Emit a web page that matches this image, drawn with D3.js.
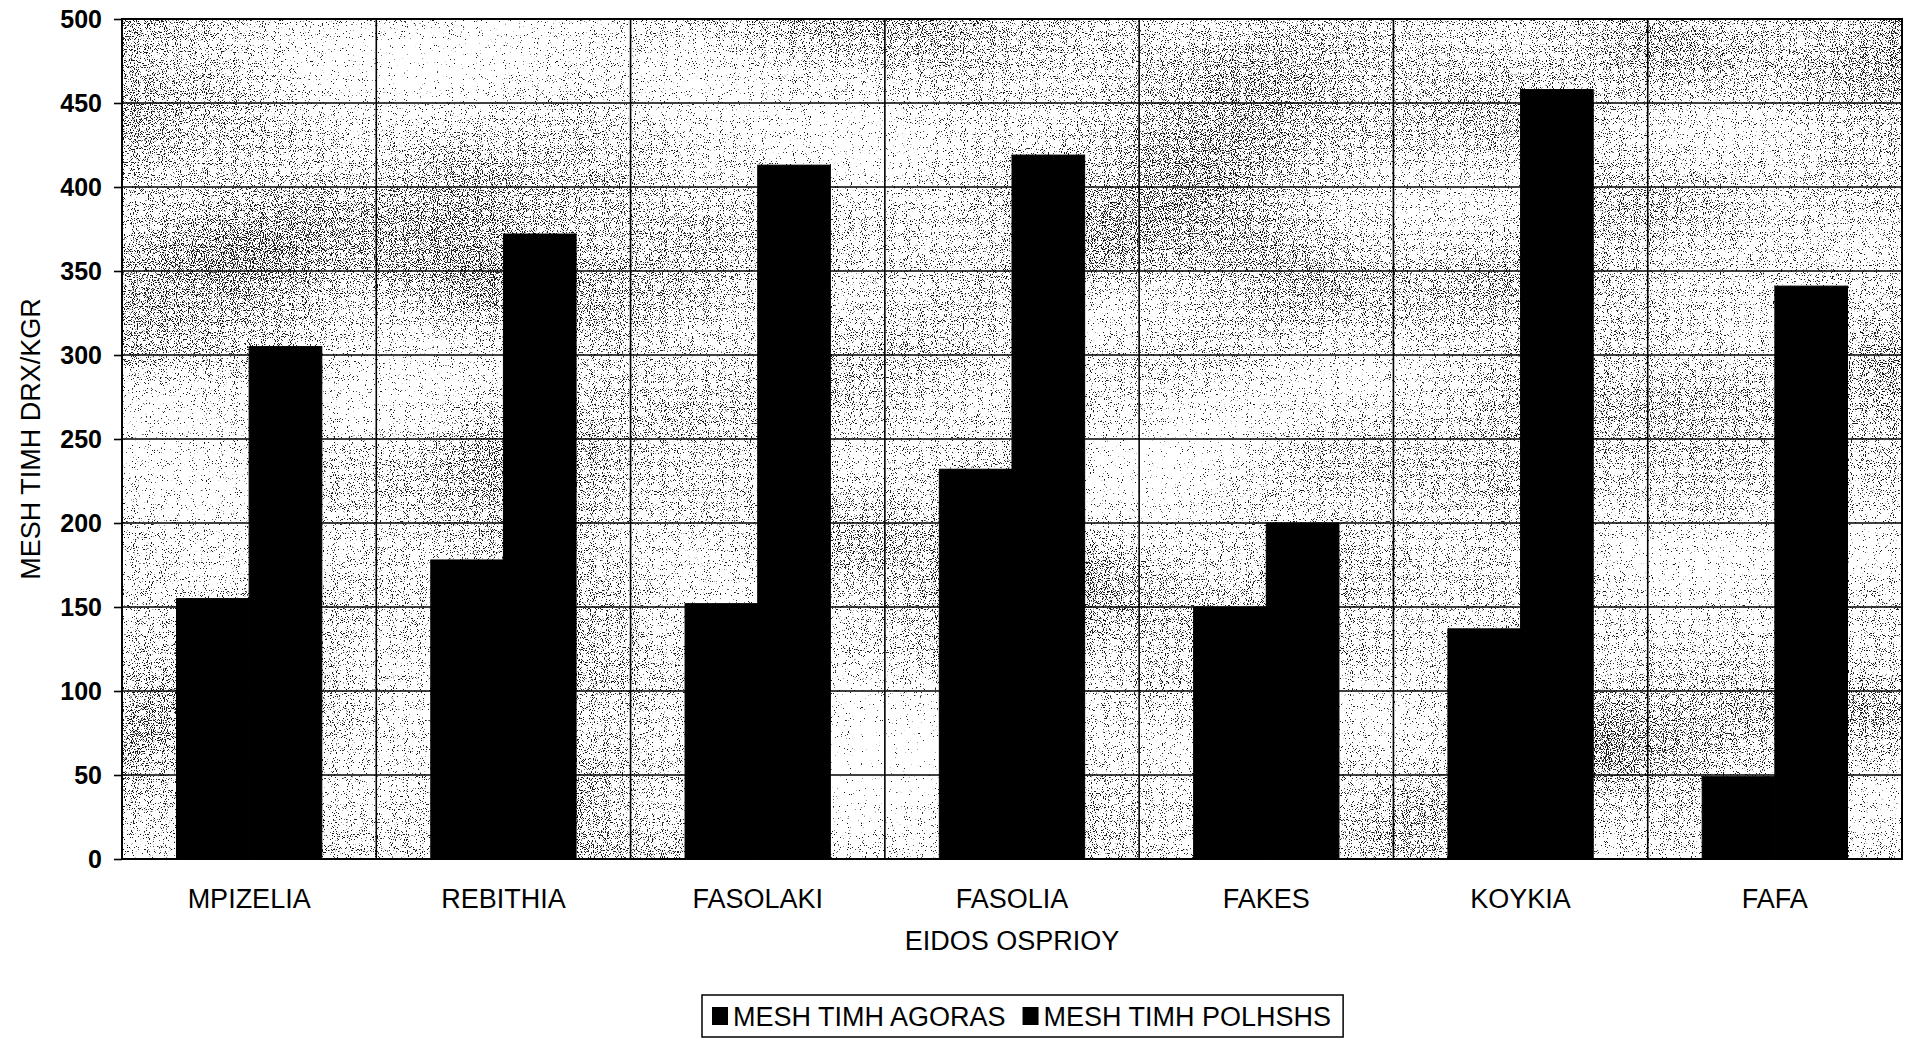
<!DOCTYPE html>
<html>
<head>
<meta charset="utf-8">
<script src="https://cdn.jsdelivr.net/npm/d3@7"></script>
<style>
  html, body { margin: 0; padding: 0; background: #fff; }
  svg { display: block; }
  text { font-family: "Liberation Sans", Arial, Helvetica, sans-serif; fill: #000; }
</style>
</head>
<body>
<svg id="chart" width="1905" height="1038"></svg>
<script>
// Average prices per pulse type (DRX per KGR)
const categories = ["MPIZELIA", "REBITHIA", "FASOLAKI", "FASOLIA", "FAKES", "KOYKIA", "FAFA"];
const seriesNames = ["MESH TIMH AGORAS", "MESH TIMH POLHSHS"];
const agorasValues = [155, 178, 152, 232, 150, 137, 49];
const polhshsValues = [305, 372, 413, 419, 200, 458, 341];
const yTicks = [0, 50, 100, 150, 200, 250, 300, 350, 400, 450, 500];
const xAxisTitle = "EIDOS OSPRIOY";
const yAxisTitle = "MESH TIMH DRX/KGR";

const plot = { left: 122, right: 1902, top: 19, bottom: 859 };

const svg = d3.select("#chart");

// Stippled plot-area texture: fine noise thresholded into dots,
// with a gentle low-frequency modulation of the dot density
const defs = svg.append("defs");
const f = defs.append("filter")
  .attr("id", "stipple")
  .attr("x", 0).attr("y", 0).attr("width", 1).attr("height", 1)
  .attr("color-interpolation-filters", "sRGB");
f.append("feTurbulence").attr("type", "fractalNoise").attr("baseFrequency", 0.93)
  .attr("numOctaves", 2).attr("seed", 3).attr("result", "fineRaw");
f.append("feColorMatrix").attr("in", "fineRaw").attr("type", "matrix")
  .attr("values", "1 0 0 0 0  0 1 0 0 0  0 0 1 0 0  0 0 0 0 1").attr("result", "fine");
f.append("feTurbulence").attr("type", "fractalNoise").attr("baseFrequency", "0.003 0.006")
  .attr("numOctaves", 2).attr("seed", 11).attr("result", "coarseRaw");
f.append("feColorMatrix").attr("in", "coarseRaw").attr("type", "matrix")
  .attr("values", "1 0 0 0 0  0 1 0 0 0  0 0 1 0 0  0 0 0 0 1").attr("result", "coarse");
f.append("feComposite").attr("in", "fine").attr("in2", "coarse").attr("operator", "arithmetic")
  .attr("k1", 0).attr("k2", 1).attr("k3", 0.35).attr("k4", -0.175).attr("result", "mix");
f.append("feColorMatrix").attr("in", "mix").attr("type", "matrix")
  .attr("values", "0 0 0 0 0.1  0 0 0 0 0.1  0 0 0 0 0.1  18 0 0 0 -11.1");

const x = d3.scaleBand().domain(categories).range([plot.left, plot.right]).paddingInner(0).paddingOuter(0);
const xSub = d3.scaleBand().domain(seriesNames).range([0, x.bandwidth()]).paddingInner(0).paddingOuter(0.75);
const y = d3.scaleLinear().domain([0, 500]).range([plot.bottom, plot.top]);

// plot background
svg.append("rect")
  .attr("x", plot.left).attr("y", plot.top)
  .attr("width", plot.right - plot.left).attr("height", plot.bottom - plot.top)
  .attr("fill", "#fff");
svg.append("rect")
  .attr("x", plot.left).attr("y", plot.top)
  .attr("width", plot.right - plot.left).attr("height", plot.bottom - plot.top)
  .attr("fill", "#000")
  .attr("filter", "url(#stipple)");

// horizontal gridlines
svg.append("g").selectAll("line").data(yTicks).join("line")
  .attr("x1", plot.left).attr("x2", plot.right)
  .attr("y1", d => y(d)).attr("y2", d => y(d))
  .attr("stroke", "#000").attr("stroke-width", 1.6);

// vertical gridlines at category boundaries
svg.append("g").selectAll("line").data(categories.slice(1)).join("line")
  .attr("x1", d => x(d)).attr("x2", d => x(d))
  .attr("y1", plot.top).attr("y2", plot.bottom)
  .attr("stroke", "#000").attr("stroke-width", 1.6);

// bars
const rows = categories.map((c, i) => ({ cat: c, values: [agorasValues[i], polhshsValues[i]] }));
const groups = svg.append("g").selectAll("g").data(rows).join("g")
  .attr("transform", d => `translate(${x(d.cat)},0)`);
groups.selectAll("rect").data(d => d.values.map((v, j) => ({ name: seriesNames[j], value: v })))
  .join("rect")
  .attr("x", d => xSub(d.name))
  .attr("width", xSub.bandwidth())
  .attr("y", d => y(d.value))
  .attr("height", d => y(0) - y(d.value))
  .attr("fill", "#000")
  .attr("stroke", "#000").attr("stroke-width", 1);

// plot frame
svg.append("rect")
  .attr("x", plot.left).attr("y", plot.top)
  .attr("width", plot.right - plot.left).attr("height", plot.bottom - plot.top)
  .attr("fill", "none").attr("stroke", "#000").attr("stroke-width", 2);

// y axis
const yAxis = d3.axisLeft(y).tickValues(yTicks).tickSize(8).tickPadding(12).tickFormat(d3.format("d"));
const yg = svg.append("g").attr("transform", `translate(${plot.left},0)`).call(yAxis);
yg.select(".domain").remove();
yg.selectAll(".tick line").attr("stroke", "#000").attr("stroke-width", 1.6);
yg.selectAll(".tick text")
  .attr("font-size", 25).attr("font-weight", "bold")
  .style("font-family", "'Liberation Sans', Arial, sans-serif").attr("fill", "#000");

// x axis category labels
const xAxis = d3.axisBottom(x).tickSize(0).tickPadding(0);
const xg = svg.append("g").attr("transform", `translate(0,${plot.bottom})`).call(xAxis);
xg.select(".domain").remove();
xg.selectAll(".tick text")
  .attr("dy", null).attr("y", 49)
  .attr("font-size", 27)
  .style("font-family", "'Liberation Sans', Arial, sans-serif").attr("fill", "#000");

// axis titles
svg.append("text")
  .attr("x", (plot.left + plot.right) / 2).attr("y", 950)
  .attr("text-anchor", "middle").attr("font-size", 27)
  .text(xAxisTitle);
svg.append("text")
  .attr("transform", `translate(40,${(plot.top + plot.bottom) / 2}) rotate(-90)`)
  .attr("text-anchor", "middle").attr("font-size", 27)
  .text(yAxisTitle);

// legend
const legend = svg.append("g");
const legendBox = legend.append("rect")
  .attr("fill", "#fff").attr("stroke", "#000").attr("stroke-width", 1.5);
let lx = 712;
const ly = 1026;
seriesNames.forEach((name, i) => {
  legend.append("rect").attr("x", lx).attr("y", ly - 19).attr("width", 16).attr("height", 18).attr("fill", "#000");
  const t = legend.append("text").attr("x", lx + 21).attr("y", ly).attr("font-size", 27).text(name);
  lx += 21 + t.node().getComputedTextLength() + 17;
});
legendBox.attr("x", 702).attr("y", 995).attr("width", lx - 17 + 12 - 702).attr("height", 42);
</script>
</body>
</html>
